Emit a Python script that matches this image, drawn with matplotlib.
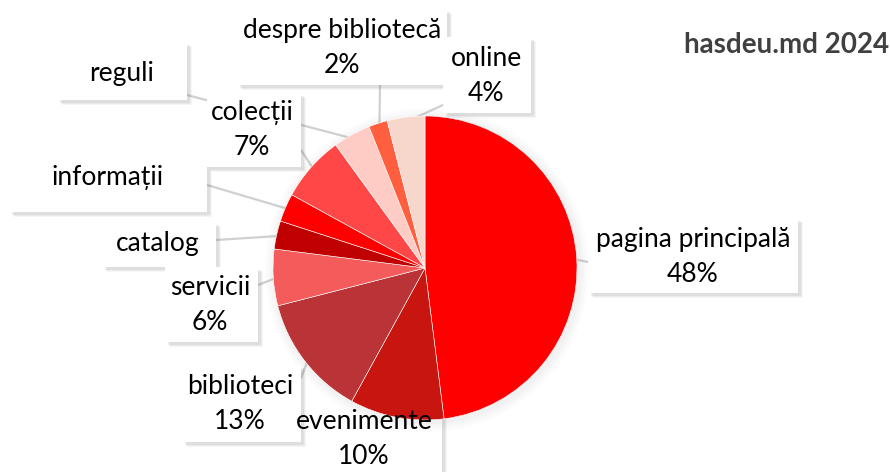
import matplotlib
matplotlib.use("Agg")
import matplotlib.pyplot as plt
from matplotlib.patches import Rectangle, Circle
import numpy as np

# ---- data ----
categories = ["pagina principală", "evenimente", "biblioteci", "servicii", "catalog",
              "informații", "colecții", "reguli", "despre bibliotecă", "online"]
values = [48, 10, 13, 6, 3, 3, 7, 4, 2, 4]
show_pct = [True, True, True, True, False, False, True, False, True, True]
colors = ["#FF0000", "#C8150F", "#B93337", "#F45B5B", "#C00000",
          "#FF0000", "#FF4747", "#FFCCC5", "#FF5F3F", "#F7D6CC"]
title = "hasdeu.md 2024"

W, H = 890, 472
plt.rcParams['font.family'] = ['Lato', 'DejaVu Sans']

fig = plt.figure(figsize=(W / 100, H / 100), dpi=100)
ax = fig.add_axes([0, 0, 1, 1])

def Y(y):
    return H - y

cx, cy, R = 425, Y(268), 152

# soft glow behind the pie
for i, a in enumerate([0.025, 0.025, 0.03, 0.03]):
    ax.add_patch(Circle((cx + 2, cy - 2), R + 10 - 2.5 * i, color="#808080", alpha=a, lw=0, zorder=1.5))

wedges, _ = ax.pie(values, colors=colors, startangle=90, counterclock=False,
                   center=(cx, cy), radius=R,
                   wedgeprops=dict(edgecolor="#ffffff", linewidth=0.4, alpha=1))
for w in wedges:
    w.set_zorder(2)

# label layout: box (x0, y0, x1, y1) in pixel coords (top-down), text center, tail anchor
layout = {
    "pagina principală": ((588, 218, 798, 293), (693, 257), (588, 262)),
    "evenimente": ((287, 402, 442, 490), (364, 439), (400, 402)),
    "biblioteci": ((182, 365, 301, 442), (240, 404), (301, 378)),
    "servicii": ((165, 267, 258, 342), (210, 305), (258, 285)),
    "catalog": ((102, 222, 216, 267), (158, 244), (216, 240)),
    "informații": ((9, 138, 207, 212), (108, 177), (207, 185)),
    "colecții": ((207, 93, 301, 167), (252, 130), (301, 150)),
    "reguli": ((57, 42, 187, 100), (122, 73), (187, 95)),
    "despre bibliotecă": ((237, 9, 447, 85), (342, 48), (380, 85)),
    "online": ((443, 37, 531, 113), (486, 76), (443, 105)),
}

FS = 19
for i, name in enumerate(categories):
    (x0, y0, x1, y1), (tx, ty), (ax_, ay_) = layout[name]
    w = wedges[i]
    mid = np.deg2rad((w.theta1 + w.theta2) / 2)
    px = cx + 0.97 * R * np.cos(mid)
    py = cy + 0.97 * R * np.sin(mid)
    # tail
    ax.plot([ax_, px], [Y(ay_), py], color="#d0d0d0", lw=1.6, zorder=1.2, solid_capstyle="round")
    # shadow
    zb = 1 if name == "evenimente" else 3
    for k, a in enumerate([0.05, 0.07, 0.09]):
        off = 5 - k
        ax.add_patch(Rectangle((x0 + off, Y(y1) - off), x1 - x0, y1 - y0,
                               color="#606060", alpha=a, lw=0, zorder=zb))
    ax.add_patch(Rectangle((x0, Y(y1)), x1 - x0, y1 - y0, facecolor="white",
                           edgecolor="none", zorder=zb + 0.1))
    txt = name + ("\n%d%%" % values[i] if show_pct[i] else "")
    ax.text(tx, Y(ty), txt, ha="center", va="center", fontsize=FS, color="#000000",
            linespacing=1.5, zorder=4)

ax.text(889, Y(45), title, ha="right", va="center", fontsize=20, fontweight="bold",
        color="#404040", zorder=4)

ax.set_xlim(0, W)
ax.set_ylim(0, H)
ax.set_aspect("auto")
ax.axis("off")
fig.savefig("out.png", dpi=100, facecolor="white")
